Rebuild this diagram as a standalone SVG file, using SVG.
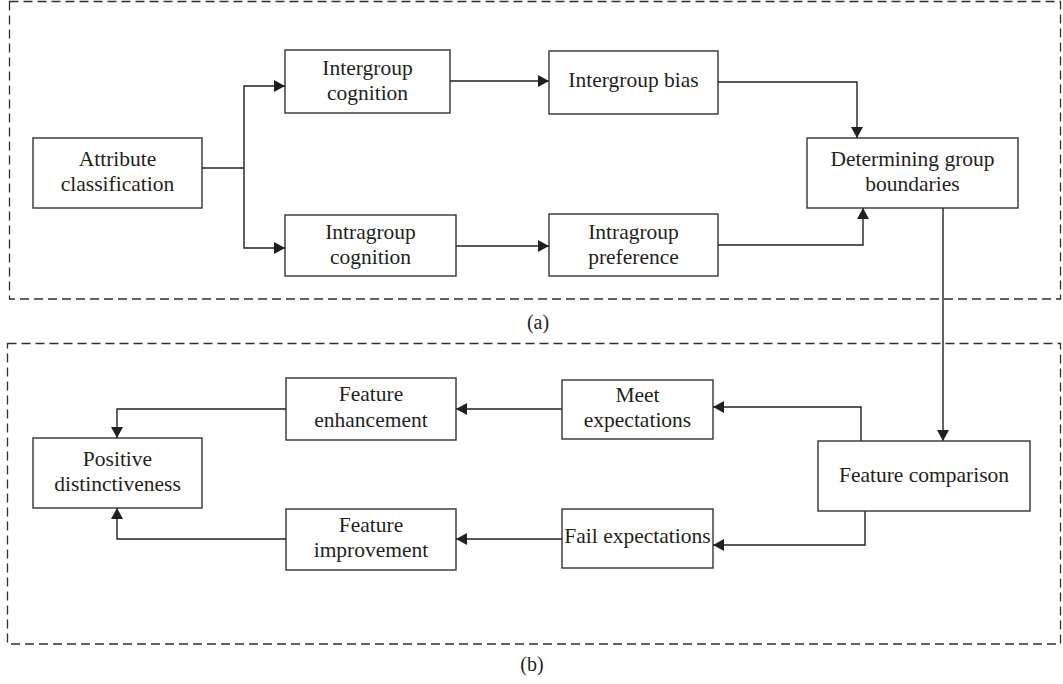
<svg xmlns="http://www.w3.org/2000/svg" width="1063" height="684" viewBox="0 0 1063 684">
  <style>
    .frame { fill: none; stroke: #2e2e2e; stroke-width: 1.3; stroke-dasharray: 9 5; }
    .box { fill: #ffffff; stroke: #333333; stroke-width: 1.4; }
    .lbl { font-family: "Liberation Serif", "Times New Roman", serif; font-size: 21.5px; fill: #231f20; text-anchor: middle; }
    .cap { font-family: "Liberation Serif", "Times New Roman", serif; font-size: 20px; fill: #231f20; text-anchor: middle; }
    .edge { fill: none; stroke: #231f20; stroke-width: 1.4; marker-end: url(#arrow); }
    .plain { fill: none; stroke: #231f20; stroke-width: 1.4; }
  </style>
  <defs>
    <marker id="arrow" markerUnits="userSpaceOnUse" markerWidth="12" markerHeight="12" refX="11" refY="6" orient="auto">
      <path d="M0,0 L11,6 L0,12 z" fill="#231f20"/>
    </marker>
  </defs>

  <rect width="1063" height="684" fill="#ffffff"/>

  <!-- section frames -->
  <g id="frames">
    <rect class="frame" x="9.5" y="1.5" width="1051" height="297.5"/>
    <rect class="frame" x="7.5" y="343.5" width="1053" height="300.5"/>
    <text class="cap" x="538" y="329">(a)</text>
    <text class="cap" x="532" y="671">(b)</text>
  </g>

  <!-- connectors -->
  <g id="connectors">
    <path class="plain" d="M202,168 H244"/>
    <path class="edge" d="M244,168 V86 H285"/>
    <path class="edge" d="M244,168 V248 H285"/>
    <path class="edge" d="M450,81 H549"/>
    <path class="edge" d="M456,246 H549"/>
    <path class="edge" d="M718,82 H857 V138"/>
    <path class="edge" d="M718,245 H863 V208"/>
    <path class="edge" d="M943,208 V441"/>
    <path class="edge" d="M861,441 V407 H713"/>
    <path class="edge" d="M865,511 V545 H713"/>
    <path class="edge" d="M562,409 H456"/>
    <path class="edge" d="M562,539 H456"/>
    <path class="edge" d="M286,409 H117 V438"/>
    <path class="edge" d="M286,539 H117 V508"/>
  </g>

  <!-- nodes -->
  <g id="attribute-classification">
    <rect class="box" x="33" y="138" width="169" height="70"/>
    <text class="lbl" x="117.5" y="166">Attribute</text>
    <text class="lbl" x="117.5" y="191">classification</text>
  </g>
  <g id="intergroup-cognition">
    <rect class="box" x="285" y="50" width="165" height="63"/>
    <text class="lbl" x="367.5" y="75">Intergroup</text>
    <text class="lbl" x="367.5" y="100">cognition</text>
  </g>
  <g id="intragroup-cognition">
    <rect class="box" x="285" y="215" width="171" height="61"/>
    <text class="lbl" x="370.5" y="238.5">Intragroup</text>
    <text class="lbl" x="370.5" y="263.5">cognition</text>
  </g>
  <g id="intergroup-bias">
    <rect class="box" x="549" y="51" width="169" height="63"/>
    <text class="lbl" x="633.5" y="87">Intergroup bias</text>
  </g>
  <g id="intragroup-preference">
    <rect class="box" x="549" y="214" width="169" height="62"/>
    <text class="lbl" x="633.5" y="238.5">Intragroup</text>
    <text class="lbl" x="633.5" y="263.5">preference</text>
  </g>
  <g id="group-boundaries">
    <rect class="box" x="807" y="138" width="211" height="70"/>
    <text class="lbl" x="912.5" y="166">Determining group</text>
    <text class="lbl" x="912.5" y="191">boundaries</text>
  </g>
  <g id="feature-comparison">
    <rect class="box" x="818" y="441" width="212" height="70"/>
    <text class="lbl" x="924" y="482">Feature comparison</text>
  </g>
  <g id="meet-expectations">
    <rect class="box" x="562" y="380" width="151" height="59"/>
    <text class="lbl" x="637.5" y="402">Meet</text>
    <text class="lbl" x="637.5" y="427">expectations</text>
  </g>
  <g id="fail-expectations">
    <rect class="box" x="562" y="509" width="151" height="59"/>
    <text class="lbl" x="637.5" y="543">Fail expectations</text>
  </g>
  <g id="feature-enhancement">
    <rect class="box" x="286" y="378" width="170" height="62"/>
    <text class="lbl" x="371" y="401">Feature</text>
    <text class="lbl" x="371" y="427">enhancement</text>
  </g>
  <g id="feature-improvement">
    <rect class="box" x="286" y="509" width="170" height="61"/>
    <text class="lbl" x="371" y="532">Feature</text>
    <text class="lbl" x="371" y="557">improvement</text>
  </g>
  <g id="positive-distinctiveness">
    <rect class="box" x="33" y="438" width="169" height="70"/>
    <text class="lbl" x="117.5" y="466">Positive</text>
    <text class="lbl" x="117.5" y="491">distinctiveness</text>
  </g>
</svg>
